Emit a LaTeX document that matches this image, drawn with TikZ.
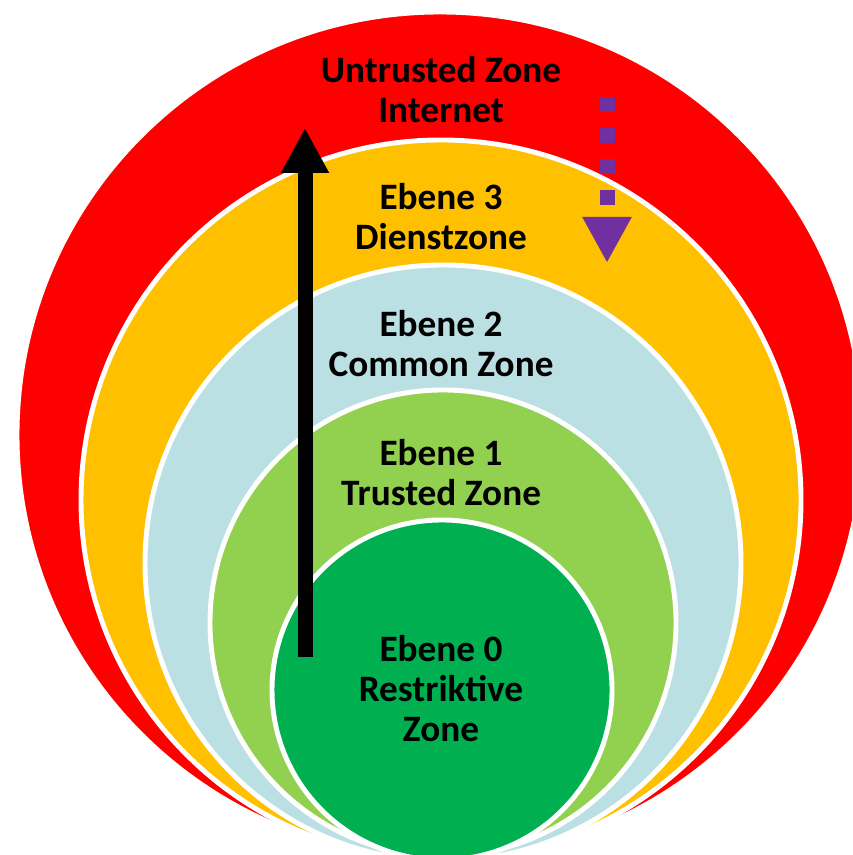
\documentclass[tikz,border=0pt]{standalone}
\usepackage{fontspec}
\setmainfont{Carlito}
\usetikzlibrary{arrows.meta}
\definecolor{cred}{HTML}{FF0000}
\definecolor{corange}{HTML}{FFC000}
\definecolor{cblue}{HTML}{BBE0E3}
\definecolor{clime}{HTML}{92D050}
\definecolor{cgreen}{HTML}{00B050}
\definecolor{cpurple}{HTML}{7030A0}

\begin{document}
\begin{tikzpicture}
    \tikzset{
        zone/.style={draw=white, line width=1.4pt},
        zonetext/.style={font=\bfseries\fontsize{10.6}{11.4}\selectfont, align=center, text=black, inner sep=0pt},
        outward/.style={line width=1.5mm, -{Triangle[length=4.5mm, width=4.5mm]}},
        inward/.style={line width=1.5mm, cpurple, dash pattern=on 1.5mm off 1.6mm, -{Triangle[length=4.6mm, width=4.6mm]}}
    }

    \useasboundingbox (0,0) rectangle (8.52,8.55);
    \clip (0,0) rectangle (8.52,8.55);

    \filldraw[zone, fill=cred] (4.40,4.20) circle (4.23);
    \filldraw[zone, fill=corange] (4.41,3.55) circle (3.60);
    \filldraw[zone, fill=cblue] (4.43,2.92) circle (2.98);
    \filldraw[zone, fill=clime] (4.43,2.32) circle (2.33);
    \filldraw[zone, fill=cgreen] (4.42,1.65) circle (1.70);

    \node[zonetext] (untrusted) at (4.41,7.65) {Untrusted Zone\\Internet};
    \node[zonetext] (dienst) at (4.41,6.38) {Ebene 3\\Dienstzone};
    \node[zonetext] (common) at (4.41,5.11) {Ebene 2\\Common Zone};
    \node[zonetext] (trusted) at (4.41,3.82) {Ebene 1\\Trusted Zone};
    \node[zonetext] (restrict) at (4.41,1.66) {Ebene 0\\Restriktive\\Zone};

    \coordinate (rise_start) at (3.05,1.98);
    \coordinate (rise_end) at (3.05,7.27);
    \coordinate (fall_start) at (6.07,7.58);
    \coordinate (fall_end) at (6.07,5.92);

    \draw[outward] (rise_start) -- (rise_end);
    \draw[inward] (fall_start) -- (fall_end);
\end{tikzpicture}
\end{document}
